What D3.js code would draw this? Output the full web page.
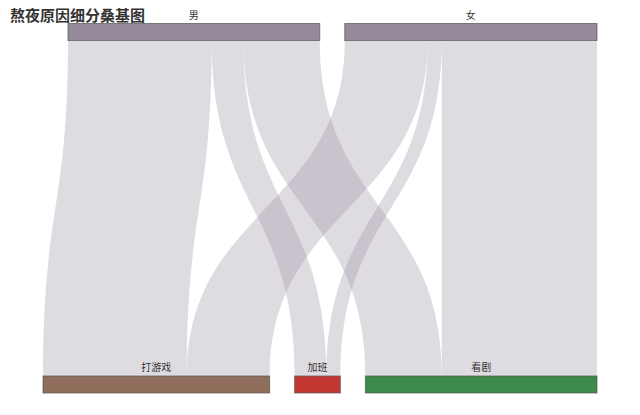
<!DOCTYPE html>
<html>
<head>
<meta charset="utf-8">
<script src="https://cdn.jsdelivr.net/npm/d3@7"></script>
<style>
  body { margin: 0; background: #fff; }
  text { font-family: "Noto Sans CJK SC", sans-serif; }
</style>
</head>
<body>
<div id="chart"></div>
<script>
// data
var sourceNames = ['男', '女'];
var targetNames = ['打游戏', '加班', '看剧'];
var linkSource = ['男', '男', '男', '女', '女', '女'];
var linkTarget = ['打游戏', '加班', '看剧', '打游戏', '加班', '看剧'];
var linkValue = [28.6, 6.3, 15.2, 16.5, 2.8, 30.9];

var nodeColors = {
    '男': '#948a9b',
    '女': '#948a9b',
    '打游戏': '#8f6f5b',
    '加班': '#c33833',
    '看剧': '#3e8a4a'
};

var svgWidth = 640;
var svgHeight = 415;
var margin = { left: 43, right: 43, top: 23.5, bottom: 22 };
var nodeWidth = 17;
var nodeGap = 25;

var svg = d3.select('#chart')
    .append('svg')
    .attr('width', svgWidth)
    .attr('height', svgHeight);

var links = linkValue.map(function(v, i) {
    return { source: linkSource[i], target: linkTarget[i], value: v };
});

var total = d3.sum(linkValue);
var rowWidth = svgWidth - margin.left - margin.right;
var maxCount = Math.max(sourceNames.length, targetNames.length);
var size = d3.scaleLinear()
    .domain([0, total])
    .range([0, rowWidth - nodeGap * (maxCount - 1)]);

// build node rows
function buildRow(names, key, y) {
    var row = names.map(function(name) {
        var val = d3.sum(links.filter(function(l) { return l[key] === name; }), function(l) { return l.value; });
        return { name: name, value: val, y0: y, y1: y + nodeWidth };
    });
    var used = d3.sum(row, function(d) { return size(d.value); }) + nodeGap * (row.length - 1);
    // shorter row is pushed against the right edge
    var x = margin.left + rowWidth - used;
    row.forEach(function(d) {
        d.x0 = x;
        d.x1 = x + size(d.value);
        x = d.x1 + nodeGap;
    });
    return row;
}

var topRow = buildRow(sourceNames, 'source', margin.top);
var bottomRow = buildRow(targetNames, 'target', svgHeight - margin.bottom - nodeWidth);
var byName = {};
topRow.concat(bottomRow).forEach(function(d) { byName[d.name] = d; });

// link offsets inside nodes
topRow.forEach(function(n) {
    var x = n.x0;
    links.filter(function(l) { return l.source === n.name; })
        .sort(function(a, b) { return byName[a.target].x0 - byName[b.target].x0; })
        .forEach(function(l) { l.sx0 = x; x += size(l.value); l.sx1 = x; });
});
bottomRow.forEach(function(n) {
    var x = n.x0;
    links.filter(function(l) { return l.target === n.name; })
        .sort(function(a, b) { return byName[a.source].x0 - byName[b.source].x0; })
        .forEach(function(l) { l.tx0 = x; x += size(l.value); l.tx1 = x; });
});

function linkPath(l) {
    var y0 = byName[l.source].y1;
    var y1 = byName[l.target].y0;
    var ym = (y0 + y1) / 2;
    var p = d3.path();
    p.moveTo(l.sx0, y0);
    p.bezierCurveTo(l.sx0, ym, l.tx0, ym, l.tx0, y1);
    p.lineTo(l.tx1, y1);
    p.bezierCurveTo(l.tx1, ym, l.sx1, ym, l.sx1, y0);
    p.closePath();
    return p.toString();
}

svg.append('g')
    .selectAll('path')
    .data(links)
    .enter()
    .append('path')
    .attr('d', linkPath)
    .attr('fill', function(d) { return nodeColors[d.source]; })
    .attr('fill-opacity', 0.3);

var nodes = topRow.concat(bottomRow);

svg.append('g')
    .selectAll('rect')
    .data(nodes)
    .enter()
    .append('rect')
    .attr('x', function(d) { return d.x0; })
    .attr('y', function(d) { return d.y0; })
    .attr('width', function(d) { return d.x1 - d.x0; })
    .attr('height', function(d) { return d.y1 - d.y0; })
    .attr('fill', function(d) { return nodeColors[d.name]; })
    .attr('stroke', '#555')
    .attr('stroke-opacity', 0.7)
    .attr('stroke-width', 1);

svg.append('g')
    .selectAll('text')
    .data(nodes)
    .enter()
    .append('text')
    .attr('x', function(d) { return (d.x0 + d.x1) / 2; })
    .attr('y', function(d) { return d.y0 - 5; })
    .attr('text-anchor', 'middle')
    .attr('font-size', '10px')
    .attr('fill', '#333')
    .text(function(d) { return d.name; });

svg.append('text')
    .attr('x', 10)
    .attr('y', 21)
    .attr('font-size', '15px')
    .attr('font-weight', 'bold')
    .attr('fill', '#333')
    .text('熬夜原因细分桑基图');
</script>
</body>
</html>
